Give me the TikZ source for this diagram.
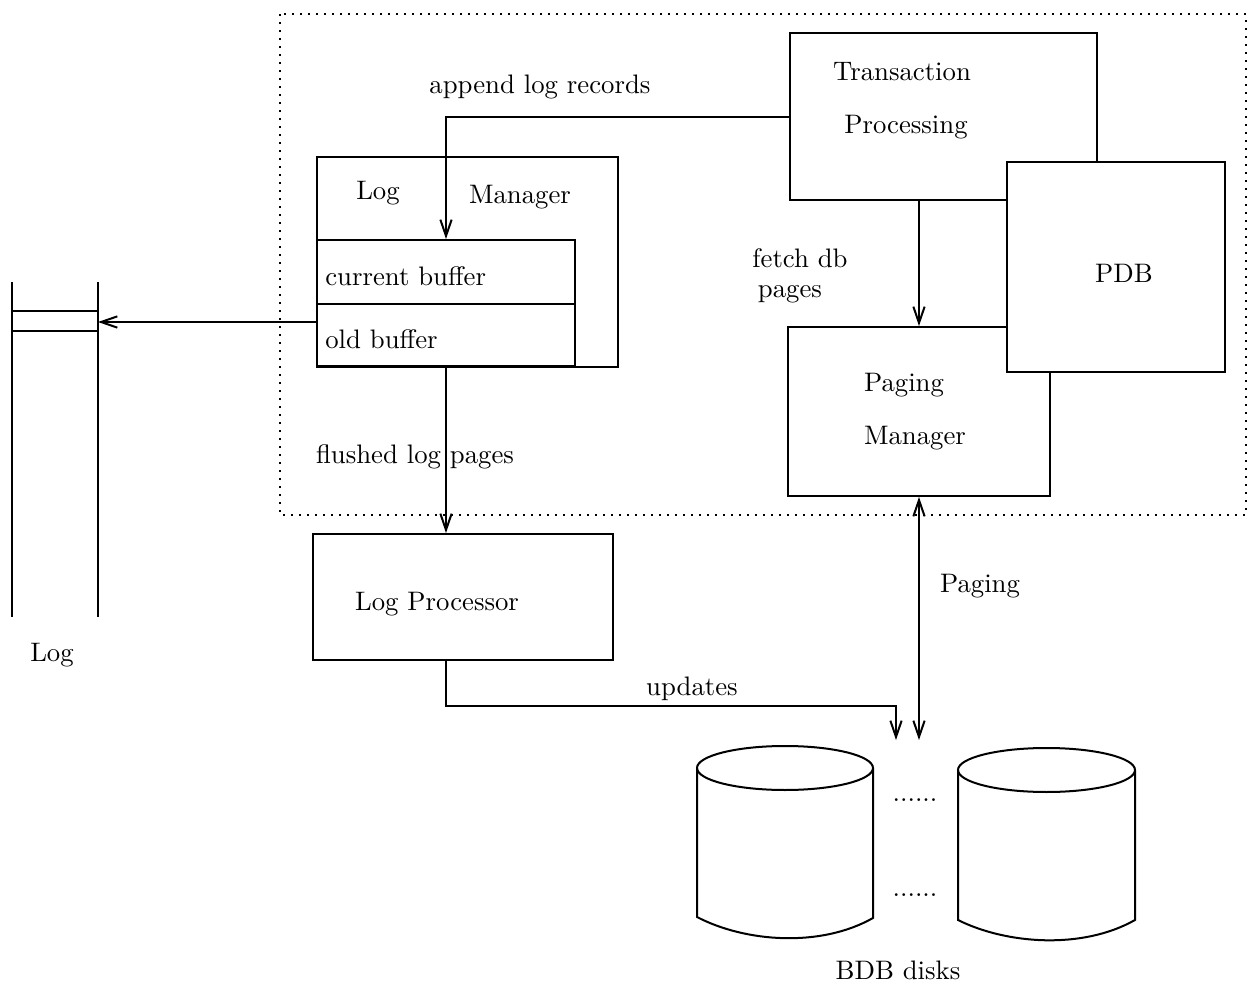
\documentclass[tikz,border=0pt]{standalone}
\usepackage{tikz}
\usetikzlibrary{arrows.meta}

\begin{document}
\begin{tikzpicture}[x=0.4pt, y=-0.4pt, thick, >={Straight Barb[length=6.5pt,width=4.5pt]}]
\tikzstyle{every node} = [font=\fontsize{10.7}{13}\selectfont]
\tikzstyle{box} = [draw, rectangle, inner sep=0pt]
\tikzstyle{frame} = [line width=0.8pt, dash pattern=on 0.8pt off 2.4pt]
\useasboundingbox (0,0) rectangle (1249,993);

% boxes
\node[box, minimum width=122.8pt, minimum height=66.8pt] (tp) at (943.5,116.5) {};
\node[box, minimum width=104.8pt, minimum height=67.6pt] (pm) at (919,411.5) {};
\node[box, fill=white, minimum width=87.2pt, minimum height=84pt] (pdb) at (1116,267) {};
\node[box, minimum width=120.4pt, minimum height=84pt] (lm) at (467.5,262) {};
\node[box, minimum width=103.2pt, minimum height=25.6pt] (cb) at (446,272) {};
\node[box, minimum width=103.2pt, minimum height=24.8pt] (ob) at (446,335) {};
\node[box, minimum width=120pt, minimum height=50.4pt] (lp) at (463,597) {};

% texts
\node (tptxt1) at (902,72) {Transaction};
\node (tptxt2) at (906,127) {Processing};
\node (pdbtxt) at (1124,273) {PDB};
\node (pmtxt1) at (904,385) {Paging};
\node (pmtxt2) at (915,438) {Manager};
\node (lmtxt1) at (378,193) {Log};
\node (lmtxt2) at (520,197) {Manager};
\node[anchor=west, yshift=-1.6pt] (cbtxt) at (cb.west) {current buffer};
\node[anchor=west, yshift=-1.8pt] (obtxt) at (ob.west) {old buffer};
\node (lptxt) at (437,604) {Log Processor};

% labels
\node (append) at (540,87) {append log records};
\node (fetch1) at (800,258) {fetch db};
\node (fetch2) at (790,294) {pages};
\node (flushed) at (415,457) {flushed log pages};
\node (updates) at (692,689) {updates};
\node (paging) at (980,586) {Paging};
\node (logtxt) at (52,655) {Log};
\node (dots1) at (915,800) {......};
\node (dots2) at (915,895) {......};
\node (bdb) at (898,970) {BDB disks};

% dotted frame
\draw[frame] (280,14) rectangle (1246,515);

% log stack
\draw (12,282) -- (12,617);
\draw (98,282) -- (98,617);
\draw (12,311) -- (98,311);
\draw (12,331) -- (98,331);
\coordinate (logtop) at (98,322);

% disks
\draw (697,768) -- (697,917) .. controls (745,942) and (820,948) .. (873,918) -- (873,768);
\draw (785,768) ellipse [x radius=88, y radius=22];
\draw (958,770) -- (958,920) .. controls (1006,944) and (1082,950) .. (1135,920) -- (1135,770);
\draw (1046.5,770) ellipse [x radius=88.5, y radius=22];
\coordinate (updend) at (896,740);
\coordinate (pagend) at (919,740);

% arrows
\draw [->] (tp.west) -| (cb.north);
\draw [->] (tp.south -| pm.north) -- (pm.north);
\draw [->] (ob.west |- logtop) -- (logtop);
\draw [->] (ob.south) -- (ob.south |- lp.north);
\draw [->] (lp.south -| ob.south) -- ++(0,45) -| (updend);
\draw [<->] (pm.south) -- (pm.south |- pagend);
\end{tikzpicture}
\end{document}
